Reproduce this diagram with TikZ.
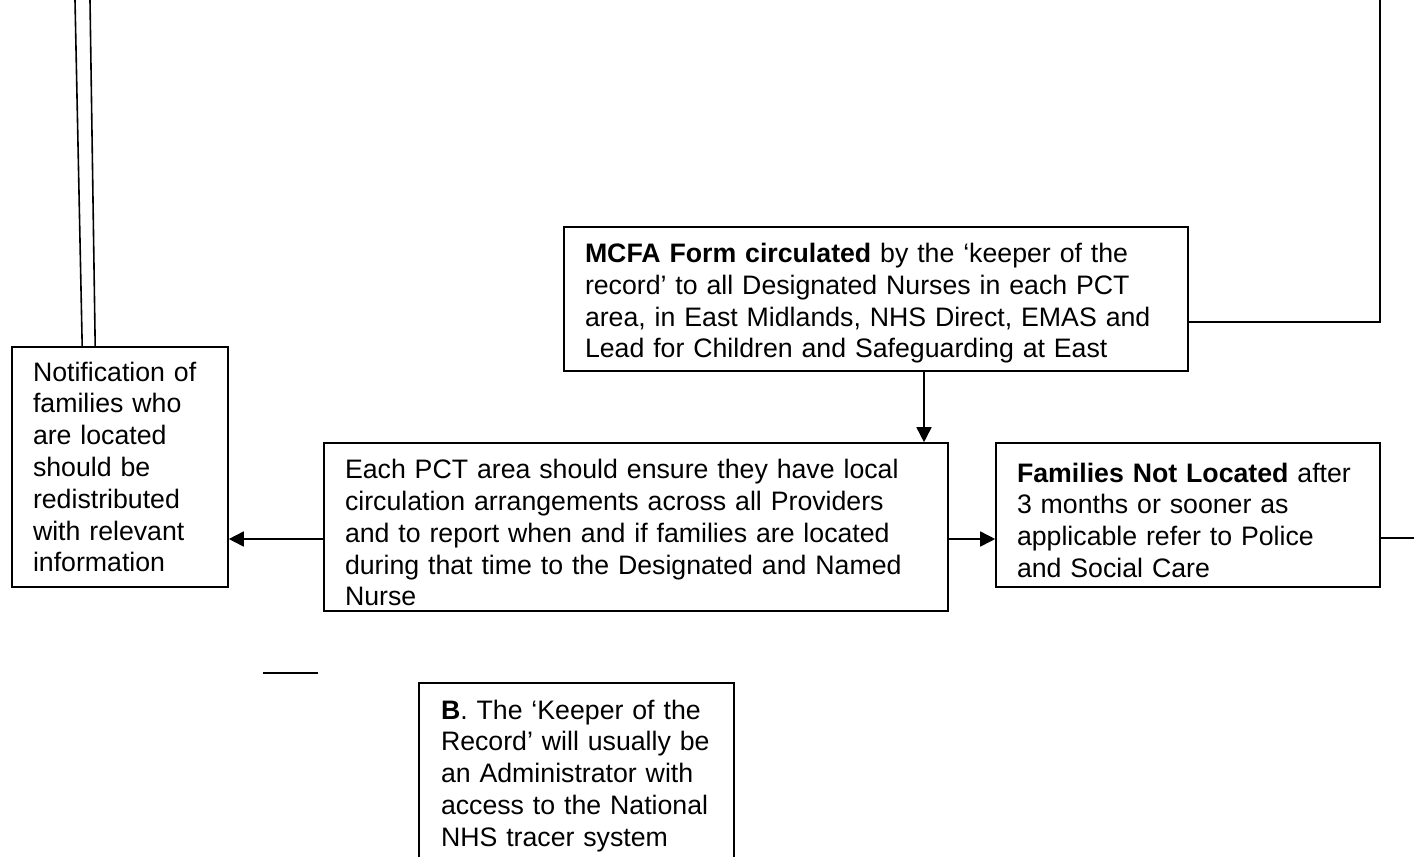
\documentclass[tikz,border=0pt]{standalone}
\usepackage{fontspec}
\setmainfont{Liberation Sans}
\usetikzlibrary{arrows.meta,calc}
\newcommand{\toppad}[1]{\rule{0pt}{#1}}

\begin{document}
\begin{tikzpicture}[
  x=0.5pt,y=-0.5pt,
  line width=0.8pt,
  >={Triangle[length=7.5pt,width=7.5pt]},
  box/.style={draw,align=left,inner xsep=10.5pt,inner ysep=0pt,font=\fontsize{13.35}{15.9}\selectfont}]
  \useasboundingbox (0,0) rectangle (1414,857);
  \node[box,text width=87pt,minimum height=120pt](notif) at(120,467){Notification of\\families who\\are located\\should be\\redistributed\\with relevant\\information};
  \node[box,text width=291pt,minimum height=72pt](mcfa) at(876,299){\toppad{14pt}\textbf{MCFA Form circulated} by the ‘keeper of the\\record’ to all Designated Nurses in each PCT\\area, in East Midlands, NHS Direct, EMAS and\\Lead for Children and Safeguarding at East};
  \node[box,text width=291pt,minimum height=84pt](pct) at(636,527){\toppad{15.5pt}Each PCT area should ensure they have local\\circulation arrangements across all Providers\\and to report when and if families are located\\during that time to the Designated and Named\\Nurse};
  \node[box,text width=171pt,minimum height=72pt](fam) at(1188,515){\toppad{15pt}\textbf{Families Not Located} after\\3 months or sooner as\\applicable refer to Police\\and Social Care};
  \node[box,draw=none,anchor=north,text width=135.5pt,inner ysep=8pt](keeper) at(576.5,683){\textbf{B}. The ‘Keeper of the\\Record’ will usually be\\an Administrator with\\access to the National\\NHS tracer system};
  % free ends at the page edges
  \coordinate(rowy) at(0,539);
  \coordinate(colx) at(924,0);
  \coordinate(rimR) at(1414,538);
  \coordinate(topR) at(1380,0);
  \coordinate(topA) at(75,0);
  \coordinate(topB) at(90,0);
  \coordinate(stubA) at(263,673);
  \coordinate(stubB) at(318,673);
  \coordinate(pagebot) at(0,857);
  \draw[->](mcfa.south -| colx)--(pct.north -| colx);
  \draw[->](pct.west |- rowy)--(notif.east |- rowy);
  \draw[->](pct.east |- rowy)--(fam.west |- rowy);
  \draw(fam.east |- rimR)--(rimR);
  \draw($(mcfa.north east)+(0,96)$) -| (topR);
  \draw(topA)--($(notif.north west)+(71,0)$);
  \draw(topB)--($(notif.north west)+(84,0)$);
  \draw(stubA)--(stubB);
  \draw(keeper.north west |- pagebot)--(keeper.north west)--(keeper.north east)--(keeper.north east |- pagebot);
\end{tikzpicture}
\end{document}
